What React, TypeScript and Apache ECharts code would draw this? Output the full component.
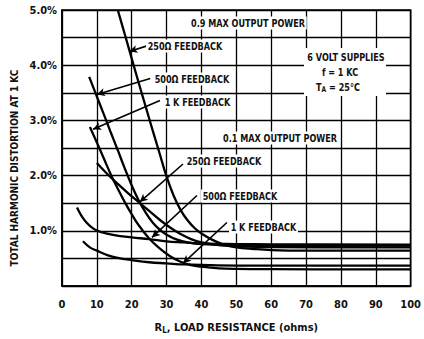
import React, { useEffect, useRef } from "react";
import * as echarts from "echarts";

// ---- data (x = load resistance in ohms, y = THD in %) ----
const xTickValues = [0, 10, 20, 30, 40, 50, 60, 70, 80, 90, 100];
const yTickLabels = ["1.0%", "2.0%", "3.0%", "4.0%", "5.0%"];

// 0.9 max output power
const hi250: number[][] = [
  [16, 5.0], [18, 4.56], [20, 4.12], [22, 3.68], [24, 3.25], [26, 2.82], [28, 2.4],
  [30, 1.98], [32, 1.64], [34, 1.38], [36, 1.19], [38, 1.05], [40, 0.95], [43, 0.84],
  [46, 0.76], [50, 0.7], [55, 0.67], [60, 0.65], [70, 0.64], [85, 0.64], [100, 0.64],
];
const hi500: number[][] = [
  [7.8, 3.79], [10, 3.43], [12, 3.11], [14, 2.78], [16, 2.46], [18, 2.13], [20, 1.82],
  [22, 1.55], [24, 1.33], [26, 1.15], [28, 1.02], [30, 0.93], [33, 0.84], [36, 0.79],
  [40, 0.76], [45, 0.745], [50, 0.735], [60, 0.73], [100, 0.73],
];
const hi1k: number[][] = [
  [8.0, 2.88], [10, 2.6], [12, 2.31], [14, 2.02], [16, 1.76], [18, 1.52], [20, 1.3],
  [22, 1.1], [25, 0.86], [28, 0.68], [31, 0.54], [34, 0.44], [37, 0.38], [40, 0.35],
  [45, 0.32], [50, 0.31], [60, 0.305], [100, 0.3],
];
// 0.1 max output power
const lo250: number[][] = [
  [10, 2.23], [13, 2.03], [16, 1.85], [19, 1.68], [22, 1.52], [25, 1.36], [28, 1.2],
  [31, 1.06], [34, 0.94], [37, 0.85], [40, 0.79], [45, 0.74], [50, 0.72], [60, 0.705],
  [100, 0.7],
];
const lo500: number[][] = [
  [4.3, 1.42], [5.5, 1.28], [7, 1.15], [9, 1.04], [11, 0.98], [15, 0.92], [20, 0.88],
  [25, 0.85], [30, 0.81], [35, 0.79], [40, 0.77], [50, 0.76], [60, 0.755], [100, 0.75],
];
const lo1k: number[][] = [
  [6, 0.81], [8, 0.7], [10, 0.64], [13, 0.56], [16, 0.51], [20, 0.47], [25, 0.43],
  [30, 0.41], [35, 0.39], [40, 0.38], [50, 0.37], [60, 0.37], [100, 0.37],
];

// label arrows: [from, to] in data units
const arrows: number[][][] = [
  [[24.4, 4.35], [19.3, 4.25]],
  [[25.3, 3.76], [10.0, 3.47]],
  [[28.1, 3.36], [8.9, 2.84]],
  [[34.7, 2.21], [22.3, 1.52]],
  [[38.7, 1.64], [25.8, 0.88]],
  [[47.3, 1.15], [34.7, 0.41]],
];

const FF = "'DejaVu Sans Condensed', 'DejaVu Sans', sans-serif";
const FONT = `bold 11px ${FF}`;
const SX = 0.82;

export default function App() {
  const ref = useRef<HTMLDivElement>(null);

  useEffect(() => {
    if (!ref.current) return;
    const chart = echarts.init(ref.current, undefined, { renderer: "svg" });

    const curve = (name: string, data: number[][]) => ({
      name,
      type: "line",
      data,
      smooth: 0.4,
      showSymbol: false,
      symbol: "none",
      clip: true,
      lineStyle: { color: "#000", width: 2.3 },
      silent: true,
    });

    const txt = (text: string, x: number, y: number, align = "left", bg = true) => ({
      type: "text",
      x,
      y,
      scaleX: SX,
      z: 100,
      style: {
        text,
        font: FONT,
        fill: "#111",
        align,
        verticalAlign: "middle",
        backgroundColor: bg ? "#fff" : undefined,
        padding: bg ? [1, 2, 1, 2] : 0,
      },
    });

    const tickStyle = {
      fontFamily: FF,
      fontSize: 11,
      fontWeight: "bold",
      color: "#111",
    };

    chart.setOption({
      animation: false,
      backgroundColor: "#fff",
      grid: {
        left: 62,
        right: 13,
        top: 10,
        bottom: 46,
        show: true,
        borderColor: "#000",
        borderWidth: 1.6,
      },
      xAxis: {
        type: "value",
        min: 0,
        max: 100,
        interval: 10,
        name: "{r|R}{s|L}{r|, LOAD RESISTANCE (ohms)}",
        nameLocation: "middle",
        nameGap: 34,
        nameTextStyle: {
          rich: {
            r: { fontFamily: FF, fontSize: 11, fontWeight: "bold", color: "#111" },
            s: {
              fontFamily: FF,
              fontSize: 8,
              fontWeight: "bold",
              color: "#111",
              padding: [6, 0, 0, 0],
            },
          },
        },
        axisLine: { show: true, lineStyle: { color: "#000", width: 1.6 } },
        axisTick: { show: false },
        splitLine: { show: true, lineStyle: { color: "#000", width: 1.3 } },
        axisLabel: {
          margin: 13,
          ...tickStyle,
          formatter: (v: number) => (xTickValues.includes(v) ? String(v) : ""),
        },
      },
      yAxis: {
        type: "value",
        min: 0,
        max: 5,
        interval: 0.5,
        axisLine: { show: true, lineStyle: { color: "#000", width: 1.6 } },
        axisTick: { show: false },
        splitLine: { show: true, lineStyle: { color: "#000", width: 1.3 } },
        axisLabel: {
          margin: 5,
          ...tickStyle,
          formatter: (v: number) => {
            const i = Math.round(v) - 1;
            return Math.abs(v - Math.round(v)) < 1e-6 && i >= 0 ? yTickLabels[i] : "";
          },
        },
      },
      series: [
        {
          ...curve("0.9 250Ω", hi250),
          markLine: {
            silent: true,
            symbol: ["none", "arrow"],
            symbolSize: [6, 8],
            label: { show: false },
            lineStyle: { color: "#000", width: 1.6, type: "solid" },
            data: arrows.map(([a, b]) => [{ coord: a }, { coord: b }]),
          },
        },
        curve("0.9 500Ω", hi500),
        curve("0.9 1K", hi1k),
        curve("0.1 250Ω", lo250),
        curve("0.1 500Ω", lo500),
        curve("0.1 1K", lo1k),
      ],
      graphic: [
        {
          type: "text",
          x: 14,
          y: 168,
          rotation: Math.PI / 2,
          z: 100,
          style: {
            text: "TOTAL HARMONIC DISTORTION AT 1 KC",
            font: `bold 10px ${FF}`,
            fill: "#111",
            align: "center",
            verticalAlign: "middle",
          },
        },
        txt("0.9 MAX OUTPUT POWER", 248, 23, "center"),
        txt("250Ω FEEDBACK", 146, 46),
        txt("500Ω FEEDBACK", 153, 79),
        txt("1 K FEEDBACK", 163, 102),
        {
          type: "rect",
          shape: { x: 304, y: 48, width: 82, height: 48 },
          style: { fill: "#fff" },
          z: 90,
        },
        txt("6 VOLT SUPPLIES", 346, 57, "center", false),
        txt("f = 1 KC", 340, 72, "center", false),
        {
          type: "text",
          x: 338,
          y: 87,
          scaleX: SX,
          z: 100,
          style: {
            text: "{t|T}{s|A}{t| = 25°C}",
            align: "center",
            verticalAlign: "middle",
            rich: {
              t: { font: FONT, fill: "#111" },
              s: { font: `bold 8px ${FF}`, fill: "#111", padding: [5, 0, 0, 0] },
            },
          },
        },
        txt("0.1 MAX OUTPUT POWER", 280, 138, "center"),
        txt("250Ω FEEDBACK", 185, 161),
        txt("500Ω FEEDBACK", 201, 196),
        txt("1 K FEEDBACK", 229, 227),
      ],
    });

    return () => chart.dispose();
  }, []);

  return (
    <div
      ref={ref}
      style={{ position: "fixed", left: 0, top: 0, width: 424, height: 339, background: "#fff" }}
    />
  );
}
